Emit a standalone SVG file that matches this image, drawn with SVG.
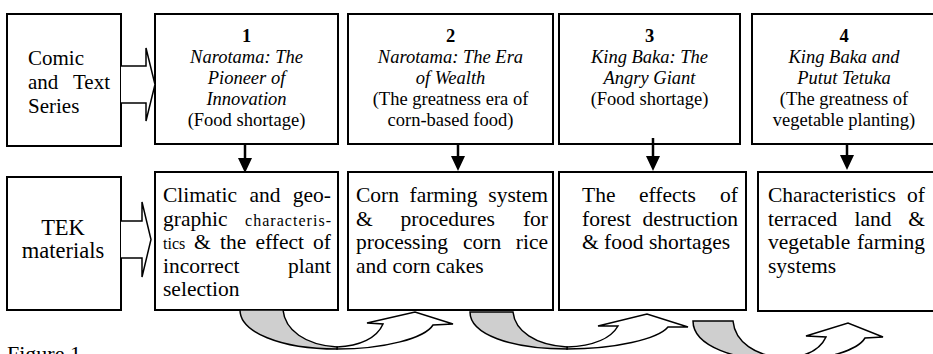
<svg xmlns="http://www.w3.org/2000/svg" width="933" height="354" viewBox="0 0 933 354">
<style>
.box{fill:#fff;stroke:#000;stroke-width:2}
.t{font-family:"Liberation Serif","Times New Roman",serif;fill:#000}
.top{font-size:18.5px;text-anchor:middle}
.it{font-style:italic}
.num{font-weight:bold}
.lab{font-size:21px}
.bt{font-size:21.5px}
.sm{font-size:16px}
.e{text-anchor:end}
.blk{fill:#fff;stroke:#000;stroke-width:1.5;stroke-linejoin:miter}
.dn{stroke:#000;stroke-width:2.5}
.hd{fill:#000}
.gr{fill:#cfcfcf;stroke:#000;stroke-width:1.5}
.wh{fill:#fff;stroke:#000;stroke-width:1.5;stroke-linejoin:miter}
</style>

<g id="comic-series">
<rect class="box" x="7" y="14" width="114" height="132"/>
<text class="t lab" x="28" y="65">Comic</text>
<text class="t lab" x="28" y="89">and</text>
<text class="t lab e" x="110" y="89">Text</text>
<text class="t lab" x="28" y="113">Series</text>
</g>

<g id="tek-materials">
<rect class="box" x="7" y="177" width="114" height="133"/>
<text class="t" style="font-size:22.5px;text-anchor:middle" x="63" y="235">TEK</text>
<text class="t" style="font-size:22.5px;text-anchor:middle" x="63" y="258">materials</text>
</g>

<g id="story-1">
<rect class="box" x="155" y="14" width="183" height="130"/>
<text class="t top num" x="246.5" y="42">1</text>
<text class="t top it" x="246.5" y="63">Narotama: The</text>
<text class="t top it" x="246.5" y="84">Pioneer of</text>
<text class="t top it" x="246.5" y="105">Innovation</text>
<text class="t top" x="246.5" y="126">(Food shortage)</text>
</g>

<g id="story-2">
<rect class="box" x="348" y="14" width="205" height="130"/>
<text class="t top num" x="450.5" y="42">2</text>
<text class="t top it" x="450.5" y="63">Narotama: The Era</text>
<text class="t top it" x="450.5" y="84">of Wealth</text>
<text class="t top" x="450.5" y="105">(The greatness era of</text>
<text class="t top" x="450.5" y="126">corn-based food)</text>
</g>

<g id="story-3">
<rect class="box" x="559" y="14" width="181" height="130"/>
<text class="t top num" x="649.5" y="42">3</text>
<text class="t top it" x="649.5" y="63">King Baka: The</text>
<text class="t top it" x="649.5" y="84">Angry Giant</text>
<text class="t top" x="649.5" y="105">(Food shortage)</text>
</g>

<g id="story-4">
<rect class="box" x="752" y="14" width="190" height="130"/>
<text class="t top num" x="844" y="42">4</text>
<text class="t top it" x="844" y="63">King Baka and</text>
<text class="t top it" x="844" y="84">Putut Tetuka</text>
<text class="t top" x="844" y="105">(The greatness of</text>
<text class="t top" x="844" y="126">vegetable planting)</text>
</g>

<g id="tek-1">
<rect class="box" x="155" y="172" width="183" height="138"/>
<text class="t bt" x="163" y="202">Climatic</text>
<text class="t bt" x="249.5" y="202">and</text>
<text class="t bt e" x="331" y="202">geo-</text>
<text class="t bt" x="163" y="225.5">graphic</text>
<text class="t sm" x="245" y="225.5" textLength="86" lengthAdjust="spacing">characteris-</text>
<text class="t sm" x="163" y="249">tics</text>
<text class="t bt" x="194" y="249">&amp;</text>
<text class="t bt" x="220" y="249">the</text>
<text class="t bt" x="255.5" y="249">effect</text>
<text class="t bt e" x="331" y="249">of</text>
<text class="t bt" x="163" y="272.5">incorrect</text>
<text class="t bt e" x="331" y="272.5">plant</text>
<text class="t bt" x="163" y="296">selection</text>
</g>

<g id="tek-2">
<rect class="box" x="348" y="172" width="205" height="138"/>
<text class="t bt" x="356" y="202">Corn</text>
<text class="t bt" x="409.5" y="202">farming</text>
<text class="t bt e" x="548" y="202">system</text>
<text class="t bt" x="356" y="225.5">&amp;</text>
<text class="t bt" x="400.5" y="225.5">procedures</text>
<text class="t bt e" x="548" y="225.5">for</text>
<text class="t bt" x="356" y="249">processing</text>
<text class="t bt" x="463" y="249">corn</text>
<text class="t bt e" x="548" y="249">rice</text>
<text class="t bt" x="356" y="272.5">and corn cakes</text>
</g>

<g id="tek-3">
<rect class="box" x="559" y="172" width="187" height="138"/>
<text class="t bt" x="582" y="202">The</text>
<text class="t bt" x="639" y="202">effects</text>
<text class="t bt e" x="738" y="202">of</text>
<text class="t bt" x="582" y="225.5">forest</text>
<text class="t bt e" x="738" y="225.5">destruction</text>
<text class="t bt" x="582" y="249">&amp; food shortages</text>
</g>

<g id="tek-4">
<rect class="box" x="758" y="172" width="190" height="139"/>
<text class="t bt" x="768" y="202">Characteristics</text>
<text class="t bt e" x="925" y="202">of</text>
<text class="t bt" x="768" y="225.5">terraced</text>
<text class="t bt" x="854.5" y="225.5">land</text>
<text class="t bt e" x="925" y="225.5">&amp;</text>
<text class="t bt" x="768" y="249">vegetable</text>
<text class="t bt e" x="925" y="249">farming</text>
<text class="t bt" x="768" y="272.5">systems</text>
</g>

<g id="connectors">
<path class="blk" d="M121,66 L146,66 L146,48 L155,84.5 L146,121 L146,103 L121,103"/>
<path class="blk" d="M121,221 L142,221 L142,202 L151,239.5 L142,277 L142,258 L121,258"/>

<line class="dn" x1="245" y1="144" x2="245" y2="159"/>
<path class="hd" d="M238,158 L252,158 L245,173 Z"/>
<line class="dn" x1="458" y1="144" x2="458" y2="157"/>
<path class="hd" d="M451,156 L465,156 L458,171 Z"/>
<line class="dn" x1="653" y1="138" x2="653" y2="157"/>
<path class="hd" d="M646,156 L660,156 L653,171 Z"/>
<line class="dn" x1="847" y1="144" x2="847" y2="156"/>
<path class="hd" d="M840,155 L854,155 L847,170 Z"/>

<path class="wh" d="M337,349 C385,349 425,338 433,325 L453,324 L415,312 L367,323 L383,324 C377,338 360,346 337,347 Z"/>
<path class="gr" d="M240,310 L283,310 C285,330 305,345 337,347 L337,349 C280,349 240,332 240,310 Z"/>

<path class="wh" d="M567,349 C615,349 658,339 668,327 L688,327 L647,314 L598,326 L618,326 C610,340 590,346 567,347 Z"/>
<path class="gr" d="M470,312 L513,312 C515,331 535,345 567,347 L567,349 C510,349 470,334 470,312 Z"/>

<path class="wh" d="M785,361 C825,361 858,350 865,338 L883,337 L848,323 L806,336 L826,337 C820,350 805,357 785,358 Z"/>
<path class="gr" d="M693,321 L733,321 C735,342 755,356 785,358 L785,361 C735,361 693,346 693,321 Z"/>
</g>

<text class="t" style="font-size:22px" x="7" y="361">Figure 1</text>
</svg>
